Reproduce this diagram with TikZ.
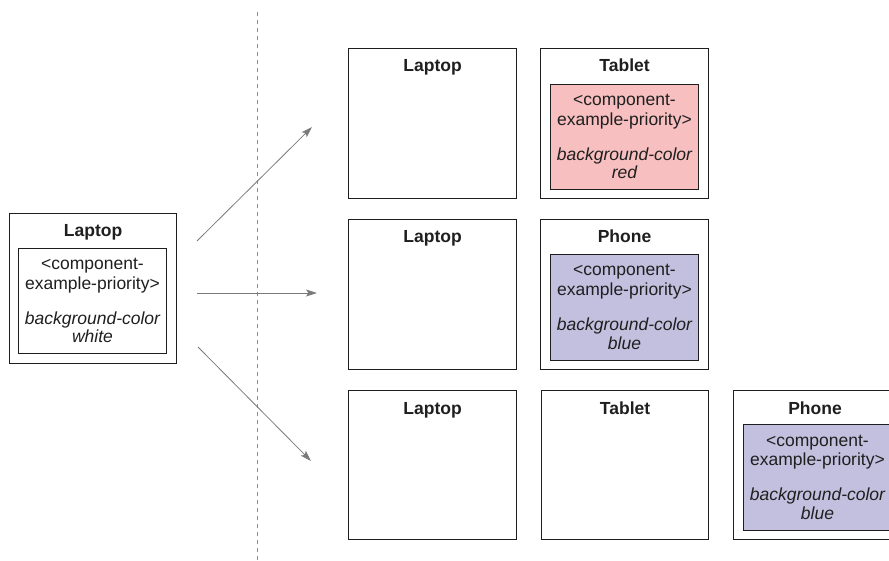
\documentclass[tikz,border=0pt]{standalone}
\usepackage{fontspec}
\setmainfont{Liberation Sans}
\usetikzlibrary{arrows.meta}

\definecolor{edge}{HTML}{1E1E1E}
\definecolor{arrowgray}{HTML}{7A7A7A}
\definecolor{dashgray}{HTML}{8C8C8C}
\definecolor{redfill}{HTML}{F7BFBF}
\definecolor{bluefill}{HTML}{C3BFDE}

\tikzset{
  devicebox/.style={draw=edge, line width=1.1pt, fill=white, rectangle,
    inner sep=0pt, anchor=north west},
  priobox/.style={draw=edge, line width=0.9pt, rectangle, inner sep=0pt,
    anchor=north west},
  devtitle/.style={anchor=base, inner sep=0pt, text=black!88,
    font=\fontsize{17.5}{20}\selectfont\bfseries},
  priotext/.style={anchor=base, inner sep=0pt, text=black!88,
    font=\fontsize{17.5}{20}\selectfont},
  prioital/.style={priotext, font=\fontsize{17.5}{20}\selectfont\itshape},
  flow/.style={draw=arrowgray, line width=0.8pt,
    -{Stealth[length=11pt,width=7pt,inset=2.5pt]}},
  divider/.style={draw=dashgray, line width=0.8pt, dash pattern=on 4pt off 4pt}
}

% device frame: name, left, top, right, bottom, title
\newcommand{\devframe}[6]{%
  \node[devicebox, minimum width=#4pt-#2pt, minimum height=#5pt-#3pt]
    (#1) at (#2,#3) {};
  \node[devtitle] (#1-title) at ([yshift=-24pt]#1.north) {#6};
}
% priority box: name, left, top, right, bottom, fill, colour word
\newcommand{\prioframe}[7]{%
  \node[priobox, fill=#6, minimum width=#4pt-#2pt, minimum height=#5pt-#3pt]
    (#1) at (#2,#3) {};
  \node[priotext] (#1-l1) at ([yshift=-22pt]#1.north) {<component-};
  \node[priotext] (#1-l2) at ([yshift=-41.5pt]#1.north) {example-priority>};
  \node[prioital] (#1-l3) at ([yshift=-76.5pt]#1.north) {background-color};
  \node[prioital] (#1-l4) at ([yshift=-95pt]#1.north) {#7};
}

\begin{document}
\begin{tikzpicture}[x=1pt, y=-1pt]
  \useasboundingbox (0,0) rectangle (889,561);
  \clip (0,0) rectangle (889,561);

  % separator between the source and the resolved layouts
  \coordinate (divtop) at (257,12);
  \coordinate (divbot) at (257,561);
  \draw[divider] (divtop) -- (divbot);

  % source component
  \devframe{src}{9}{213}{176}{363}{Laptop}
  \prioframe{srcprio}{18}{248}{166}{353}{white}{white}

  % first layout: laptop + tablet
  \devframe{r1lap}{348}{48}{516}{198}{Laptop}
  \devframe{r1tab}{540}{48}{708}{198}{Tablet}
  \prioframe{r1prio}{550}{84}{698}{189}{redfill}{red}

  % second layout: laptop + phone
  \devframe{r2lap}{348}{219}{516}{369}{Laptop}
  \devframe{r2pho}{540}{219}{708}{369}{Phone}
  \prioframe{r2prio}{550}{254}{698}{360}{bluefill}{blue}

  % third layout: laptop + tablet + phone (runs past the right edge)
  \devframe{r3lap}{348}{390}{516}{539}{Laptop}
  \devframe{r3tab}{541}{390}{708}{539}{Tablet}
  \devframe{r3pho}{733}{390}{896}{539}{Phone}
  \prioframe{r3prio}{743}{424}{891}{530}{bluefill}{blue}

  % arrows fanning out from the source
  \coordinate (a1s) at (197,241);
  \coordinate (a1e) at (312,127);
  \coordinate (a2s) at (197,293);
  \coordinate (a2e) at (317,293);
  \coordinate (a3s) at (198,347);
  \coordinate (a3e) at (311,461);
  \draw[flow] (a1s) -- (a1e);
  \draw[flow] (a2s) -- (a2e);
  \draw[flow] (a3s) -- (a3e);
\end{tikzpicture}
\end{document}
